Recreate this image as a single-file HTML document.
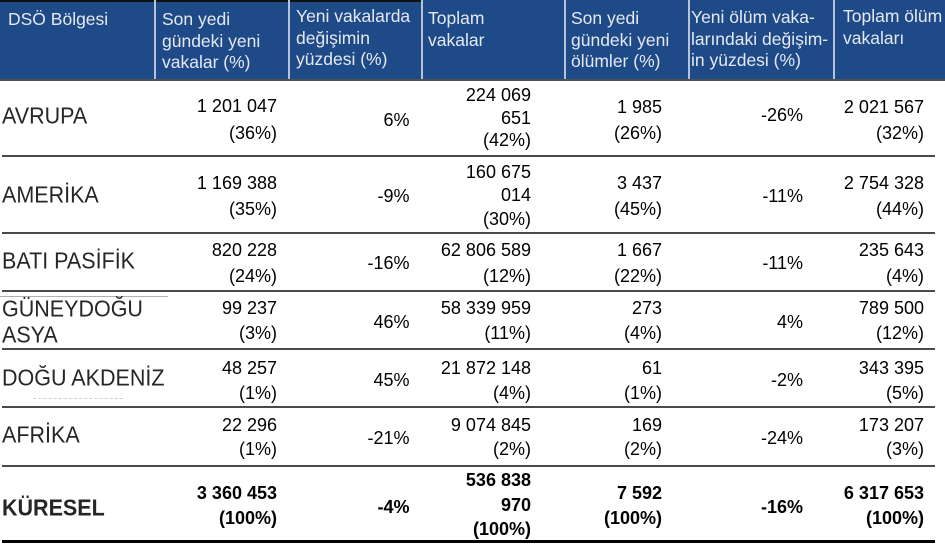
<!DOCTYPE html>
<html>
<head>
<meta charset="utf-8">
<style>
  html, body { margin:0; padding:0; }
  body { width:945px; height:544px; position:relative; overflow:hidden; background:#ffffff; font-family:"Liberation Sans", Arial, sans-serif; }
  .hdr { position:absolute; left:0; top:0; width:945px; height:79px; background:#1f4a88; }
  .topline { position:absolute; left:0; top:0; width:421px; height:1.5px; background:#111; }
  .hline { position:absolute; left:0; top:79px; width:945px; height:2px; background:#4a4f58; }
  .vsep { position:absolute; top:0; width:2px; height:79px; background:#b7c3d8; }
  .ht { position:absolute; font-size:17.5px; line-height:21.5px; color:#e4e9f1; white-space:nowrap; }
  .rl { position:absolute; left:2px; width:933px; height:2px; background:#4a4a4a; }
  .lab { position:absolute; left:2px; font-size:21.5px; line-height:21.5px; color:#262626; white-space:nowrap; transform:scaleY(1.08); transform-origin:50% 50%; }
  .n { position:absolute; font-size:18px; line-height:18px; color:#000; white-space:nowrap; text-align:right; }
  .b { font-weight:bold; }
</style>
</head>
<body>
<div class="hdr"></div>
<div class="topline"></div>
<div class="vsep" style="left:154px"></div>
<div class="vsep" style="left:288px"></div>
<div class="vsep" style="left:421px"></div>
<div class="vsep" style="left:564px"></div>
<div class="vsep" style="left:688px"></div>
<div class="vsep" style="left:833px"></div>
<div class="hline"></div>

<div class="ht" style="left:8px;top:9px">DSÖ Bölgesi</div>
<div class="ht" style="left:162px;top:9px">Son yedi<br>gündeki yeni<br>vakalar (%)</div>
<div class="ht" style="left:296px;top:6px">Yeni vakalarda<br>değişimin<br>yüzdesi (%)</div>
<div class="ht" style="left:428px;top:8px">Toplam<br>vakalar</div>
<div class="ht" style="left:571px;top:8px">Son yedi<br>gündeki yeni<br>ölümler (%)</div>
<div class="ht" style="left:691px;top:7px">Yeni ölüm vaka-<br>larındaki değişim-<br>in yüzdesi (%)</div>
<div class="ht" style="left:843px;top:6px">Toplam ölüm<br>vakaları</div>

<!-- row lines -->
<div class="rl" style="top:154.5px"></div>
<div class="rl" style="top:231.5px"></div>
<div class="rl" style="top:289.5px"></div>
<div class="rl" style="top:347.5px"></div>
<div class="rl" style="top:406px"></div>
<div class="rl" style="top:464.5px"></div>
<div class="rl" style="top:540px;height:3px;background:#000"></div>
<div style="position:absolute;left:0;top:296px;width:168px;height:1px;background:#b0b0b0"></div>
<div style="position:absolute;left:33px;top:398px;width:90px;height:0;border-top:1px dashed #cfcfcf"></div>

<!-- labels -->
<div class="lab" style="top:106px">AVRUPA</div>
<div class="lab" style="top:184.5px">AMERİKA</div>
<div class="lab" style="top:251px">BATI PASİFİK</div>
<div class="lab" style="top:298.5px">GÜNEYDOĞU</div>
<div class="lab" style="top:324.5px">ASYA</div>
<div class="lab" style="top:367.5px">DOĞU AKDENİZ</div>
<div class="lab" style="top:425px">AFRİKA</div>
<div class="lab b" style="top:497.5px">KÜRESEL</div>

<!-- Row 1 AVRUPA -->
<div class="n" style="right:668px;top:97px">1 201 047</div>
<div class="n" style="right:668px;top:123.7px">(36%)</div>
<div class="n" style="right:535.5px;top:111px">6%</div>
<div class="n" style="right:414px;top:86px">224 069</div>
<div class="n" style="right:414px;top:108.7px">651</div>
<div class="n" style="right:414px;top:131.3px">(42%)</div>
<div class="n" style="right:283px;top:97.7px">1 985</div>
<div class="n" style="right:283px;top:123.7px">(26%)</div>
<div class="n" style="right:142px;top:106.2px">-26%</div>
<div class="n" style="right:21px;top:97.7px">2 021 567</div>
<div class="n" style="right:21px;top:123.7px">(32%)</div>

<!-- Row 2 AMERIKA -->
<div class="n" style="right:668px;top:173.7px">1 169 388</div>
<div class="n" style="right:668px;top:200.3px">(35%)</div>
<div class="n" style="right:535.5px;top:186.7px">-9%</div>
<div class="n" style="right:414px;top:162.7px">160 675</div>
<div class="n" style="right:414px;top:185.7px">014</div>
<div class="n" style="right:414px;top:210.3px">(30%)</div>
<div class="n" style="right:283px;top:173.7px">3 437</div>
<div class="n" style="right:283px;top:200.3px">(45%)</div>
<div class="n" style="right:142px;top:187.2px">-11%</div>
<div class="n" style="right:21px;top:173.7px">2 754 328</div>
<div class="n" style="right:21px;top:200.3px">(44%)</div>

<!-- Row 3 BATI PASIFIK -->
<div class="n" style="right:668px;top:241px">820 228</div>
<div class="n" style="right:668px;top:266.7px">(24%)</div>
<div class="n" style="right:535.5px;top:254.2px">-16%</div>
<div class="n" style="right:414px;top:241px">62 806 589</div>
<div class="n" style="right:414px;top:266.7px">(12%)</div>
<div class="n" style="right:283px;top:241px">1 667</div>
<div class="n" style="right:283px;top:266.7px">(22%)</div>
<div class="n" style="right:142px;top:254.2px">-11%</div>
<div class="n" style="right:21px;top:241px">235 643</div>
<div class="n" style="right:21px;top:266.7px">(4%)</div>

<!-- Row 4 GUNEYDOGU ASYA -->
<div class="n" style="right:668px;top:299.3px">99 237</div>
<div class="n" style="right:668px;top:323.7px">(3%)</div>
<div class="n" style="right:535.5px;top:312.7px">46%</div>
<div class="n" style="right:414px;top:299.3px">58 339 959</div>
<div class="n" style="right:414px;top:323.7px">(11%)</div>
<div class="n" style="right:283px;top:299.3px">273</div>
<div class="n" style="right:283px;top:323.7px">(4%)</div>
<div class="n" style="right:142px;top:312.7px">4%</div>
<div class="n" style="right:21px;top:299.3px">789 500</div>
<div class="n" style="right:21px;top:323.7px">(12%)</div>

<!-- Row 5 DOGU AKDENIZ -->
<div class="n" style="right:668px;top:359.3px">48 257</div>
<div class="n" style="right:668px;top:383.7px">(1%)</div>
<div class="n" style="right:535.5px;top:371.2px">45%</div>
<div class="n" style="right:414px;top:359.3px">21 872 148</div>
<div class="n" style="right:414px;top:383.7px">(4%)</div>
<div class="n" style="right:283px;top:359.3px">61</div>
<div class="n" style="right:283px;top:383.7px">(1%)</div>
<div class="n" style="right:142px;top:371.2px">-2%</div>
<div class="n" style="right:21px;top:359.3px">343 395</div>
<div class="n" style="right:21px;top:383.7px">(5%)</div>

<!-- Row 6 AFRIKA -->
<div class="n" style="right:668px;top:415.7px">22 296</div>
<div class="n" style="right:668px;top:440.3px">(1%)</div>
<div class="n" style="right:535.5px;top:429.3px">-21%</div>
<div class="n" style="right:414px;top:415.7px">9 074 845</div>
<div class="n" style="right:414px;top:440.3px">(2%)</div>
<div class="n" style="right:283px;top:415.7px">169</div>
<div class="n" style="right:283px;top:440.3px">(2%)</div>
<div class="n" style="right:142px;top:429.2px">-24%</div>
<div class="n" style="right:21px;top:415.7px">173 207</div>
<div class="n" style="right:21px;top:440.3px">(3%)</div>

<!-- Row 7 KURESEL -->
<div class="n b" style="right:668px;top:484.3px">3 360 453</div>
<div class="n b" style="right:668px;top:508.7px">(100%)</div>
<div class="n b" style="right:535.5px;top:497.5px">-4%</div>
<div class="n b" style="right:414px;top:471px">536 838</div>
<div class="n b" style="right:414px;top:495.7px">970</div>
<div class="n b" style="right:414px;top:520.3px">(100%)</div>
<div class="n b" style="right:283px;top:484.3px">7 592</div>
<div class="n b" style="right:283px;top:508.7px">(100%)</div>
<div class="n b" style="right:142px;top:498px">-16%</div>
<div class="n b" style="right:21px;top:484.3px">6 317 653</div>
<div class="n b" style="right:21px;top:508.7px">(100%)</div>
</body>
</html>
